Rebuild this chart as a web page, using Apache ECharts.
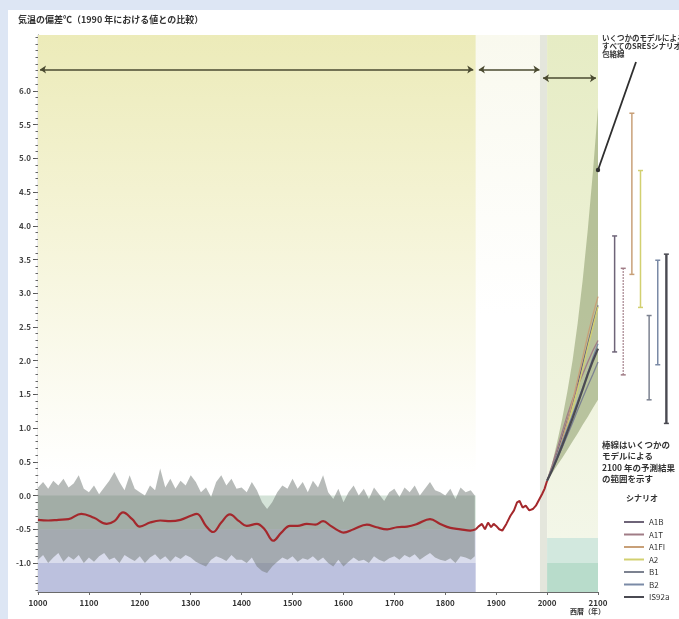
<!DOCTYPE html>
<html><head><meta charset="utf-8">
<script src="https://cdn.jsdelivr.net/npm/echarts@6/dist/echarts.min.js"></script>
<style>
html,body{margin:0;padding:0;background:#dde6f4;overflow:hidden;}
#wrap{position:absolute;left:8px;top:10px;right:0;bottom:0;background:#ffffff;}
#chart{position:absolute;left:0;top:0;width:679px;height:619px;}
</style></head><body>
<div id="wrap"></div>
<div id="chart"></div>
<script>
// ---------- DATA ----------
const yTickLabels = [-1.0,-0.5,0.0,0.5,1.0,1.5,2.0,2.5,3.0,3.5,4.0,4.5,5.0,5.5,6.0];
const xTickLabels = [1000,1100,1200,1300,1400,1500,1600,1700,1800,1900,2000,2100];

const bandYears = [1000,1010,1020,1030,1040,1050,1060,1070,1080,1090,
  1100,1110,1120,1130,1140,1150,1160,1170,1180,1190,
  1200,1210,1220,1230,1240,1250,1260,1270,1280,1290,
  1300,1310,1320,1330,1340,1350,1360,1370,1380,1390,
  1400,1410,1420,1430,1440,1450,1460,1470,1480,1490,
  1500,1510,1520,1530,1540,1550,1560,1570,1580,1590,
  1600,1610,1620,1630,1640,1650,1660,1670,1680,1690,
  1700,1710,1720,1730,1740,1750,1760,1770,1780,1790,
  1800,1810,1820,1830,1840,1850,1858];
const bandUpper = [0.12,0.2,0.1,0.22,0.15,0.25,0.12,0.18,0.3,0.1,
  0.05,0.15,0.02,0.12,0.22,0.35,0.2,0.08,0.3,0.1,
  0.05,0.0,0.15,0.08,0.4,0.12,0.25,0.1,0.22,0.15,
  0.3,0.2,0.05,0.12,-0.02,0.2,0.3,0.15,0.25,0.1,
  0.12,0.05,0.2,0.08,-0.1,-0.2,-0.1,0.05,0.15,0.1,
  0.25,0.1,0.2,0.05,0.22,0.12,0.3,0.05,-0.05,0.1,
  -0.1,0.05,0.15,0.0,0.1,-0.05,0.12,0.02,-0.08,0.05,
  0.1,-0.02,0.12,0.05,0.15,0.0,0.1,0.2,0.08,0.05,
  0.0,0.1,-0.05,0.12,0.05,0.08,0.0];
const bandLower = [-0.95,-0.88,-1.0,-0.92,-0.85,-0.98,-0.9,-0.95,-0.88,-1.0,
  -0.92,-0.98,-0.9,-0.85,-0.95,-0.92,-1.0,-0.88,-0.93,-0.97,
  -0.9,-1.0,-0.92,-0.87,-0.95,-0.9,-0.98,-0.9,-0.94,-0.88,
  -0.92,-0.98,-1.02,-1.05,-0.95,-0.9,-0.93,-0.97,-0.88,-0.95,
  -0.95,-1.0,-0.92,-1.05,-1.12,-1.15,-1.05,-0.98,-0.92,-0.95,
  -0.9,-0.98,-0.93,-0.95,-0.9,-0.97,-0.92,-1.0,-1.05,-0.95,
  -1.05,-0.98,-0.92,-0.97,-0.95,-1.0,-0.9,-0.95,-0.98,-0.93,
  -0.9,-0.95,-0.88,-0.92,-0.87,-0.95,-0.9,-0.85,-0.92,-0.95,
  -0.97,-0.93,-1.0,-0.9,-0.92,-0.95,-0.9];

const proxyYears = [1000,1020,1040,1060,1085,1110,1135,1150,1167,1185,1200,1220,1240,1260,1280,1300,1312,1330,1344,1360,1377,1395,1410,1430,1445,1462,1478,1495,1510,1528,1545,1560,1575,1590,1600,1620,1646,1665,1686,1705,1725,1745,1770,1790,1810,1830,1849,1860];
const proxyValues = [-0.36,-0.37,-0.36,-0.35,-0.27,-0.33,-0.42,-0.38,-0.25,-0.35,-0.46,-0.4,-0.37,-0.38,-0.36,-0.3,-0.27,-0.45,-0.54,-0.4,-0.28,-0.38,-0.45,-0.42,-0.5,-0.67,-0.55,-0.45,-0.45,-0.42,-0.43,-0.38,-0.45,-0.52,-0.55,-0.5,-0.43,-0.47,-0.5,-0.47,-0.46,-0.42,-0.35,-0.42,-0.48,-0.5,-0.52,-0.5];

const instYears = [1860,1865,1872,1878,1884,1890,1895,1900,1906,1912,1920,1928,1935,1941,1946,1952,1958,1965,1972,1978,1985,1990,1995,2000];
const instValues = [-0.5,-0.46,-0.42,-0.5,-0.4,-0.47,-0.42,-0.45,-0.5,-0.52,-0.42,-0.3,-0.22,-0.1,-0.08,-0.18,-0.15,-0.22,-0.2,-0.15,-0.05,0.02,0.1,0.22];

const projYears = [2000,2010,2020,2030,2040,2050,2060,2070,2080,2090,2100];
const envUpper = [0.22,0.48,0.8,1.15,1.55,2.0,2.55,3.2,3.95,4.8,5.75];
const envLower = [0.22,0.33,0.45,0.56,0.68,0.8,0.92,1.05,1.17,1.3,1.42];

const scenarioNames = ['A1B','A1T','A1FI','A2','B1','B2','IS92a'];
const sA1B  = [0.22,0.42,0.64,0.88,1.12,1.38,1.65,1.95,2.25,2.55,2.82];
const sA1T  = [0.22,0.45,0.7,0.95,1.2,1.42,1.62,1.8,1.98,2.15,2.3];
const sA1FI = [0.22,0.4,0.6,0.84,1.1,1.4,1.72,2.05,2.38,2.68,2.95];
const sA2   = [0.22,0.38,0.57,0.78,1.02,1.28,1.57,1.88,2.2,2.5,2.8];
const sB1   = [0.22,0.38,0.55,0.72,0.9,1.08,1.27,1.45,1.63,1.8,1.98];
const sB2   = [0.22,0.4,0.6,0.8,1.0,1.2,1.4,1.6,1.82,2.05,2.25];
const sIS92a= [0.22,0.38,0.56,0.75,0.95,1.15,1.36,1.58,1.8,2.0,2.18];
const scenarioValues = [sA1B,sA1T,sA1FI,sA2,sB1,sB2,sIS92a];

const barLow  = [2.13,1.79,3.28,2.79,1.42,1.94,1.07];
const barHigh = [3.85,3.37,5.67,4.82,2.67,3.49,3.58];

// ---------- STYLE ----------
const scenarioColors = ['#6e6478','#a07c86','#c8a078','#d2d070','#7c8290','#7a8aa6','#4a4a52'];
const scenarioWidths = [1.3,1.3,1.3,1.3,1.3,1.3,2.2];
const FONT = '"Noto Sans CJK JP", "Noto Sans", sans-serif';
const Y_MIN = -1.43, Y_MAX = 6.83;

const zip = (xs, ys) => xs.map((x, i) => [x, ys[i]]);

const chart = echarts.init(document.getElementById('chart'), null, {renderer: 'canvas'});

const minorTicks = [];
for (let v = -14; v <= 68; v++) minorTicks.push(+(v / 10).toFixed(1));

function bandSeries(xs, upper, lower, fill, z) {
  return {
    type: 'custom', xAxisIndex: 0, yAxisIndex: 0, z: z, silent: true, clip: true,
    data: [[xs[0], upper[0]]],
    renderItem: function (params, api) {
      const pts = [];
      for (let i = 0; i < xs.length; i++) pts.push(api.coord([xs[i], upper[i]]));
      for (let i = xs.length - 1; i >= 0; i--) pts.push(api.coord([xs[i], lower[i]]));
      return {type: 'polygon', shape: {points: pts}, style: {fill: fill}};
    }
  };
}

const series = [];
series.push({
  type: 'scatter', xAxisIndex: 0, yAxisIndex: 0, data: [], z: 0, silent: true,
  markArea: { silent: true, label: {show: false}, data: [
    [{coord: [1000, Y_MAX], itemStyle: {color: new echarts.graphic.LinearGradient(0,0,0,1,[
        {offset:0,color:'#ecebb9'},{offset:0.45,color:'#f5f4d8'},{offset:1,color:'#ffffff'}])}}, {coord: [1860, 0.3]}],
    [{coord: [1000, 0.3], itemStyle: {color: '#ffffff'}}, {coord: [1860, 0.0]}],
    [{coord: [1000, 0.0], itemStyle: {color: '#d4e3d8'}}, {coord: [1860, -0.5]}],
    [{coord: [1000, -0.5], itemStyle: {color: '#d9dcec'}}, {coord: [1860, -1.0]}],
    [{coord: [1000, -1.0], itemStyle: {color: '#bcc1de'}}, {coord: [1860, Y_MIN]}],
    [{coord: [1860, Y_MAX], itemStyle: {color: new echarts.graphic.LinearGradient(0,0,0,1,[
        {offset:0,color:'#f9f9ee'},{offset:0.5,color:'#ffffff'},{offset:1,color:'#ffffff'}])}}, {coord: [1986, Y_MIN]}],
    [{coord: [1986, Y_MAX], itemStyle: {color: '#e4e6dc'}}, {coord: [2000, Y_MIN]}],
    [{coord: [2000, Y_MAX], itemStyle: {color: new echarts.graphic.LinearGradient(0,0,0,1,[
        {offset:0,color:'#e6ecc4'},{offset:1,color:'#f3f6e8'}])}}, {coord: [2100, -0.63]}],
    [{coord: [2000, -0.63], itemStyle: {color: '#d2e8de'}}, {coord: [2100, -1.0]}],
    [{coord: [2000, -1.0], itemStyle: {color: '#b8dccb'}}, {coord: [2100, Y_MIN]}]
  ]}
});
series.push({
  type: 'scatter', xAxisIndex: 0, yAxisIndex: 0, data: [], z: 3, silent: true,
  markLine: { silent: true, symbol: ['arrow','arrow'], symbolSize: 6, label: {show: false},
    lineStyle: {color: '#4a4a30', width: 1.6, type: 'solid'},
    data: [
      [{coord: [1004, 6.32]}, {coord: [1855, 6.32]}],
      [{coord: [1866, 6.32]}, {coord: [1985, 6.32]}],
      [{coord: [1992, 6.19]}, {coord: [2096, 6.19]}]
    ]}
});
series.push(bandSeries(bandYears, bandUpper, bandLower, 'rgba(112,120,116,0.5)', 2));
series.push(bandSeries(projYears, envUpper, envLower, 'rgba(150,164,118,0.62)', 2));
series.push({type:'line', xAxisIndex:0, yAxisIndex:0, data: zip(proxyYears, proxyValues), smooth:0.4,
  symbol:'none', lineStyle:{color:'#a4282c', width:2.2}, z:5, silent:true});
series.push({type:'line', xAxisIndex:0, yAxisIndex:0, data: zip(instYears, instValues),
  symbol:'none', showSymbol:false, lineStyle:{color:'#a4282c', width:2}, z:5, silent:true});
scenarioNames.forEach((n, i) => {
  series.push({name: n, type:'line', xAxisIndex:0, yAxisIndex:0, data: zip(projYears, scenarioValues[i]),
    symbol:'none', showSymbol:false, color: scenarioColors[i], lineStyle:{color: scenarioColors[i], width: scenarioWidths[i]}, z:6, silent:true});
});
scenarioNames.forEach((n, i) => {
  series.push({type:'line', xAxisIndex:1, yAxisIndex:2, data: [[i+1, barLow[i]], [i+1, barHigh[i]]],
    symbol:'rect', symbolSize:[5,1.5], showSymbol:true, itemStyle:{color: scenarioColors[i]},
    lineStyle:{color: scenarioColors[i], width: i===6 ? 2.4 : 1.5, type: i===1 ? 'dotted' : 'solid'}, z:6, silent:true});
});

const option = {
  animation: false,
  textStyle: {fontFamily: FONT},
  grid: [
    {left: 38, right: 81, top: 35, bottom: 27},
    {left: 606, right: 4, top: 35, bottom: 27}
  ],
  xAxis: [
    {type:'value', gridIndex:0, min:1000, max:2100, interval:100,
     axisLine:{onZero:false, lineStyle:{color:'#6a6a6a', width:1.2}},
     axisTick:{show:true, length:3, lineStyle:{color:'#6a6a6a'}},
     axisLabel:{color:'#333', fontSize:8, fontWeight:'bold', margin:7,
       customValues: xTickLabels, formatter: v => String(v)},
     splitLine:{show:false}},
    {type:'value', gridIndex:1, min:0, max:8, show:false}
  ],
  yAxis: [
    {type:'value', gridIndex:0, min:Y_MIN, max:Y_MAX,
     axisLine:{show:true, onZero:false, lineStyle:{color:'#555', width:1.2}},
     axisTick:{show:true, length:5, customValues: yTickLabels, lineStyle:{color:'#555'}},
     axisLabel:{color:'#444', fontSize:8, fontWeight:'bold', margin:7, customValues: yTickLabels,
       formatter: v => v.toFixed(1)},
     splitLine:{show:false}},
    {type:'value', gridIndex:0, min:Y_MIN, max:Y_MAX, position:'left', offset:0,
     axisLine:{show:false, onZero:false}, axisLabel:{show:false}, splitLine:{show:false},
     axisTick:{show:true, length:2.5, customValues: minorTicks, lineStyle:{color:'#666'}}},
    {type:'value', gridIndex:1, min:Y_MIN, max:Y_MAX, show:false}
  ],
  legend: {
    data: scenarioNames, orient:'vertical', left: 619, top: 512,
    icon: 'rect', itemWidth: 20, itemHeight: 2, itemGap: 2.5,
    textStyle: {fontSize: 8, color:'#333', lineHeight: 10, fontFamily: FONT},
    selectedMode: false
  },
  series: series,
  graphic: [
    {type:'text', left: 18, top: 15, style:{text:'気温の偏差℃（1990 年における値との比較）', font:'bold 9px ' + FONT, fill:'#333'}},
    {type:'text', left: 210, top: 42, style:{text:'観測、北半球、代理データ', font:'bold 8.5px ' + FONT, fill:'#333'}},
    {type:'text', left: 490, top: 36, style:{text:'全球器械の\n観測記録', font:'bold 7.5px ' + FONT, fill:'#333', lineHeight: 8}},
    {type:'text', left: 563, top: 44, style:{text:'予測', font:'bold 8px ' + FONT, fill:'#333'}},
    {type:'text', left: 602, top: 34, style:{text:'いくつかのモデルによる\nすべてのSRESシナリオ\n包絡線', font:'bold 7.5px ' + FONT, fill:'#333', lineHeight: 8}},
    {type:'line', shape:{x1: 636, y1: 62, x2: 598, y2: 170}, style:{stroke:'#2e2e2e', lineWidth: 1.8}, z: 10},
    {type:'circle', shape:{cx: 598, cy: 170, r: 2.2}, style:{fill:'#2e2e2e'}, z: 10},
    {type:'text', left: 602, top: 439, style:{text:'棒線はいくつかの\nモデルによる\n2100 年の予測結果\nの範囲を示す', font:'bold 8.5px ' + FONT, fill:'#333', lineHeight: 11.5}},
    {type:'text', left: 626, top: 494, style:{text:'シナリオ', font:'bold 8px ' + FONT, fill:'#333'}},
    {type:'text', left: 570, top: 608, style:{text:'西暦（年）', font:'bold 7px ' + FONT, fill:'#333'}}
  ]
};
chart.setOption(option);
</script>
</body></html>
